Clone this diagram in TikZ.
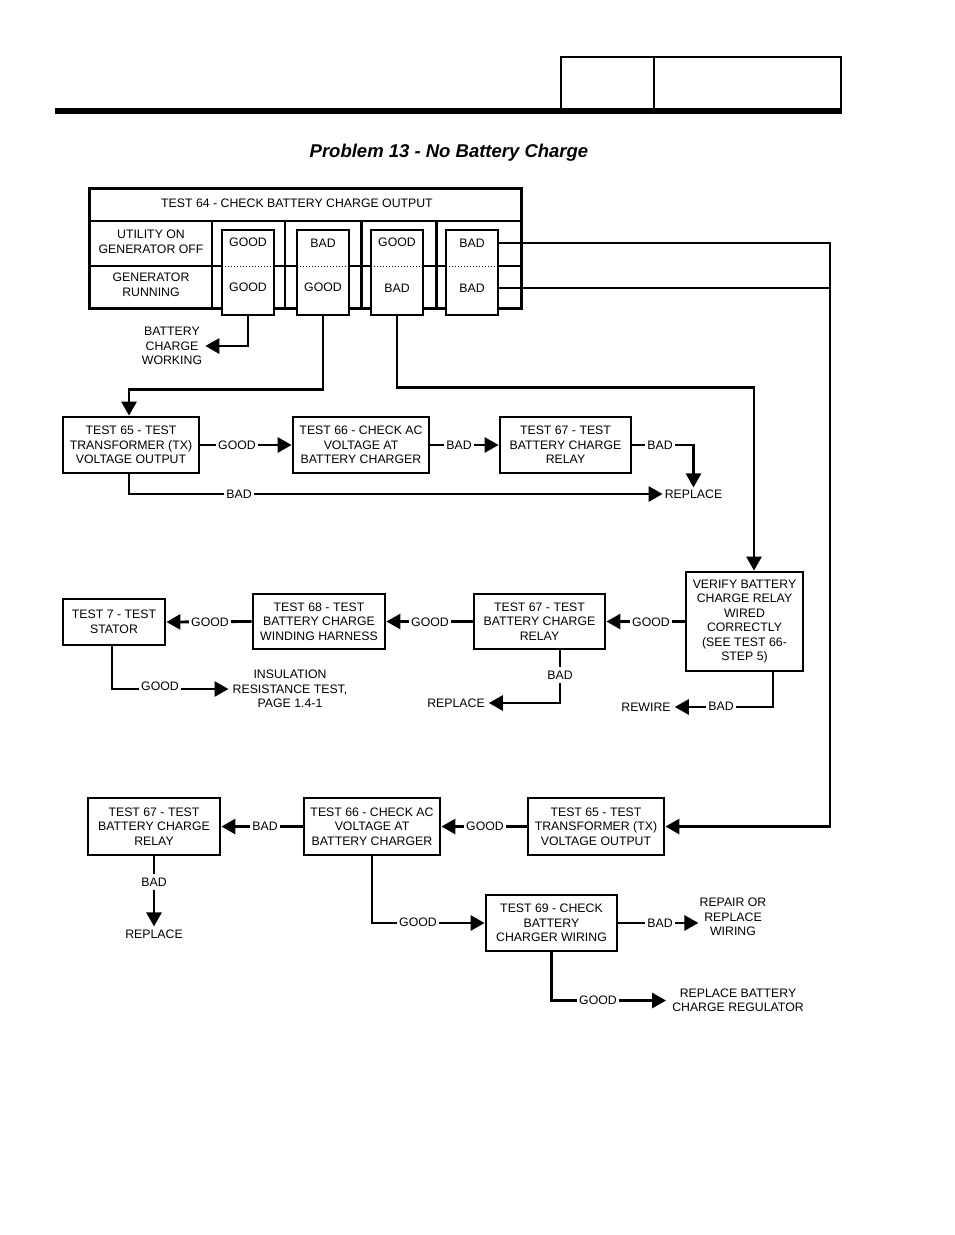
\documentclass[tikz,border=0pt]{standalone}
\usepackage{fontspec}
\setmainfont{Liberation Sans}
\usetikzlibrary{arrows.meta}
\begin{document}
\begin{tikzpicture}[x=1pt,y=-1pt,
  every node/.style={font=\fontsize{12.3}{14.5}\selectfont},
  box/.style={draw,line width=2.8pt,align=center,inner sep=0pt},
  res/.style={draw,fill=white,line width=2.8pt,minimum width=52pt,minimum height=85pt,inner sep=0pt},
  lbl/.style={fill=white,inner xsep=2.5pt,inner ysep=1pt},
  txt/.style={align=center,inner sep=3pt},
  con/.style={line width=2.8pt},
  arr/.style={line width=2.8pt,-{Triangle[length=14pt,width=15pt]}}
]
\useasboundingbox (0,0) rectangle (954,1235);

% header
\draw[line width=2.5pt] (561,110) -- (561,57) -- (841,57) -- (841,110);
\draw[line width=2.5pt] (654,57) -- (654,110);
\draw[line width=6pt] (55,111) -- (842,111);
\node[font=\fontsize{18.5}{20}\selectfont\bfseries\itshape] (title) at (449,153) {Problem 13 - No Battery Charge};

% test 64 table
\draw[line width=3pt] (89,188) rectangle (521,308);
\draw[line width=2.6pt] (89,221) -- (521,221);
\draw[line width=2.6pt] (89,266) -- (521,266);
\foreach \x in {212,285,361.5,436.5} \draw[line width=2.8pt] (\x,221) -- (\x,308);
\node (t64) at (297,203) {TEST 64 - CHECK BATTERY CHARGE OUTPUT};
\node[txt] (row1) at (151,242) {UTILITY ON\\GENERATOR OFF};
\node[txt] (row2) at (151,285) {GENERATOR\\RUNNING};

\node[res] (r1) at (248,272.5) {};
\node[res] (r2) at (323,272.5) {};
\node[res] (r3) at (397,272.5) {};
\node[res] (r4) at (472,272.5) {};
\foreach \n/\x in {r1/248,r2/323,r3/397,r4/472}
  \draw[dotted,line width=1pt] (\x-23,266) -- (\x+23,266);
\node (r1t) at (248,242) {GOOD};
\node (r1b) at (248,287) {GOOD};
\node (r2t) at (323,243) {BAD};
\node (r2b) at (323,287) {GOOD};
\node (r3t) at (397,242) {GOOD};
\node (r3b) at (397,288) {BAD};
\node (r4t) at (472,243) {BAD};
\node (r4b) at (472,288) {BAD};

\node[txt] (bcw) at (172,346) {BATTERY\\CHARGE\\WORKING};

% row 2
\node[box,minimum width=136pt,minimum height=56pt] (t65a) at (131,445) {TEST 65 - TEST\\TRANSFORMER (TX)\\VOLTAGE OUTPUT};
\node[box,minimum width=136pt,minimum height=56pt] (t66a) at (361,445) {TEST 66 - CHECK AC\\VOLTAGE AT\\BATTERY CHARGER};
\node[box,minimum width=131pt,minimum height=56pt] (t67a) at (565.5,445) {TEST 67 - TEST\\BATTERY CHARGE\\RELAY};
\node[txt,inner sep=2pt] (rep1) at (693.5,494) {REPLACE};

% row 3
\node[box,minimum width=117pt,minimum height=99pt] (ver) at (744.5,621.5) {VERIFY BATTERY\\CHARGE RELAY\\WIRED\\CORRECTLY\\(SEE TEST 66-\\STEP 5)};
\node[box,minimum width=131pt,minimum height=55pt] (t67b) at (539.5,621.5) {TEST 67 - TEST\\BATTERY CHARGE\\RELAY};
\node[box,minimum width=132pt,minimum height=55pt] (t68) at (319,621.5) {TEST 68 - TEST\\BATTERY CHARGE\\WINDING HARNESS};
\node[box,minimum width=102pt,minimum height=46pt] (t7) at (114,622) {TEST 7 - TEST\\STATOR};
\node[txt,inner sep=4pt] (ins) at (290,689) {INSULATION\\RESISTANCE TEST,\\PAGE 1.4-1};
\node[txt,inner sep=4pt] (rep2) at (456,703) {REPLACE};
\node[txt,inner sep=4pt] (rew) at (646,707) {REWIRE};

% row 4
\node[box,minimum width=136pt,minimum height=57pt] (t65b) at (596,826.5) {TEST 65 - TEST\\TRANSFORMER (TX)\\VOLTAGE OUTPUT};
\node[box,minimum width=136pt,minimum height=57pt] (t66b) at (372,826.5) {TEST 66 - CHECK AC\\VOLTAGE AT\\BATTERY CHARGER};
\node[box,minimum width=132pt,minimum height=57pt] (t67c) at (154,826.5) {TEST 67 - TEST\\BATTERY CHARGE\\RELAY};
\node[txt,inner sep=3pt] (rep3) at (154,934) {REPLACE};
\node[box,minimum width=131pt,minimum height=56pt] (t69) at (551.5,923) {TEST 69 - CHECK\\BATTERY\\CHARGER WIRING};
\node[txt,inner sep=1pt] (rrw) at (733,917) {REPAIR OR\\REPLACE\\WIRING};
\node[txt,inner sep=6pt] (rbr) at (738,1000.5) {REPLACE BATTERY\\CHARGE REGULATOR};

% connectors from table
\draw[arr] (r1.south) |- (bcw.east);
\draw[arr] (r2.south) -- ++(0,73) -| ([xshift=-2pt]t65a.north);
\draw[arr] (r3.south) -- ++(0,71) -| ([xshift=9.5pt]ver.north);
\draw[con] (r4.east |- r4b) -- (830,288);
\draw[arr] (r4.east |- r4t) -- (830,243) |- (t65b.east);

% row 2 connectors
\draw[arr] (t65a.east) -- (t66a.west);
\draw[arr] (t66a.east) -- (t67a.west);
\draw[arr] (t67a.east) -| (rep1.north);
\draw[arr] ([xshift=-2pt]t65a.south) |- (rep1.west);
\node[lbl] (g1) at (237,445) {GOOD};
\node[lbl] (b1) at (459,445) {BAD};
\node[lbl] (b2) at (660,445) {BAD};
\node[lbl] (b3) at (239,494) {BAD};

% row 3 connectors
\draw[arr] (ver.west) -- (t67b.east);
\draw[arr] (t67b.west) -- (t68.east);
\draw[arr] (t68.west) -- (t7.east);
\draw[arr] ([xshift=-2pt]t7.south) |- (ins.west);
\draw[arr] ([xshift=20.5pt]t67b.south) |- (rep2.east);
\draw[arr] ([xshift=28.5pt]ver.south) |- (rew.east);
\node[lbl] (g2) at (651,622) {GOOD};
\node[lbl] (g3) at (430,622) {GOOD};
\node[lbl] (g4) at (210,622) {GOOD};
\node[lbl] (g5) at (160,686) {GOOD};
\node[lbl,inner ysep=4pt] (b4) at (560,675) {BAD};
\node[lbl] (b5) at (721,706) {BAD};

% row 4 connectors
\draw[arr] (t65b.west) -- (t66b.east);
\draw[arr] (t66b.west) -- (t67c.east);
\draw[arr] (t67c.south) -- (rep3.north);
\draw[arr] (t66b.south) |- (t69.west);
\draw[arr] (t69.east) -- (rrw.west |- t69.east);
\draw[arr] (t69.south) |- (rbr.west);
\node[lbl] (g6) at (485,826) {GOOD};
\node[lbl] (b6) at (265,826) {BAD};
\node[lbl,inner ysep=4pt] (b7) at (154,882) {BAD};
\node[lbl] (g7) at (418,922) {GOOD};
\node[lbl] (b8) at (660,923) {BAD};
\node[lbl] (g8) at (598,1000) {GOOD};
\end{tikzpicture}
\end{document}
